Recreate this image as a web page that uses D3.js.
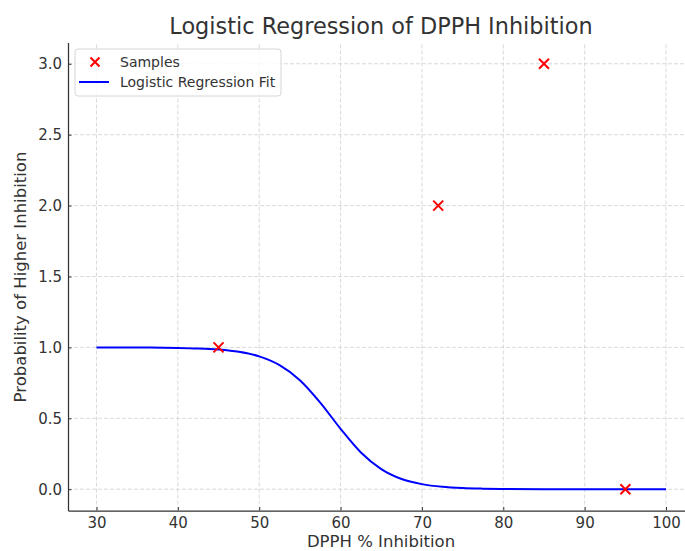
<!DOCTYPE html>
<html>
<head>
<meta charset="utf-8">
<script src="https://cdn.jsdelivr.net/npm/d3@7"></script>
<style>
  body { margin: 0; background: #fff; }
  svg text { font-family: "DejaVu Sans", sans-serif; fill: #333; }
  .grid line { stroke: #d0d0d0; stroke-dasharray: 4,2; stroke-width: 0.8; }
  .axis path, .axis line { stroke: #333; }
  .axis text { font-size: 15px; fill: #333; }
</style>
</head>
<body>
<div id="chart"></div>
<script>
const width = 685;
const height = 551;

// samples (red x)
const sampleX = [45, 72, 85, 95];
const sampleY = [1, 2, 3, 0];

// fitted curve
const fitX = [30, 35, 40, 42.5, 45, 47.5, 50, 52.5, 55, 57.5, 60, 62.5, 65, 67.5, 70, 72.5, 75, 77.5, 80, 85, 90, 95, 100];
const fitY = [0.9998, 0.9993, 0.9967, 0.993, 0.985, 0.969, 0.937, 0.875, 0.769, 0.611, 0.426, 0.259, 0.142, 0.072, 0.036, 0.017, 0.008, 0.004, 0.002, 0.0004, 0.0001, 0, 0];

const xTicks = [30, 40, 50, 60, 70, 80, 90, 100];
const yTicks = [0, 0.5, 1, 1.5, 2, 2.5, 3];

const margin = { top: 42.5, right: -9.5, bottom: 40.5, left: 68 };

const svg = d3.select("#chart").append("svg")
   .attr("width", width)
   .attr("height", height);

const x = d3.scaleLinear()
   .domain([26.5, 103.5])
   .range([margin.left, width - margin.right]);

const y = d3.scaleLinear()
   .domain([-0.15, 3.15])
   .range([height - margin.bottom, margin.top]);

// grid
svg.append("g").attr("class", "grid")
   .selectAll("line").data(xTicks).join("line")
   .attr("x1", d => x(d)).attr("x2", d => x(d))
   .attr("y1", y.range()[0]).attr("y2", y.range()[1]);
svg.append("g").attr("class", "grid")
   .selectAll("line").data(yTicks).join("line")
   .attr("x1", x.range()[0]).attr("x2", x.range()[1])
   .attr("y1", d => y(d)).attr("y2", d => y(d));

// fit line
const fit = fitX.map((d, i) => [d, fitY[i]]);
svg.append("path")
   .datum(fit)
   .attr("fill", "none")
   .attr("stroke", "#0000ff")
   .attr("stroke-width", 2)
   .attr("d", d3.line().x(d => x(d[0])).y(d => y(d[1])).curve(d3.curveMonotoneX));

// samples
const xs = 5;
const pts = svg.append("g").selectAll("g")
   .data(sampleX.map((d, i) => [d, sampleY[i]]))
   .join("g")
   .attr("transform", d => `translate(${x(d[0])},${y(d[1])})`);
pts.append("path")
   .attr("d", `M${-xs},${-xs}L${xs},${xs}M${-xs},${xs}L${xs},${-xs}`)
   .attr("stroke", "#ff0000")
   .attr("stroke-width", 2);

// axes (ticks point inward)
const xAxis = svg.append("g").attr("class", "axis")
   .attr("transform", `translate(0,${y.range()[0]})`)
   .call(d3.axisBottom(x).tickValues(xTicks).tickFormat(d3.format("d")).tickSizeInner(-3.5).tickSizeOuter(0).tickPadding(7));
xAxis.select(".domain").attr("stroke-width", 1.25);

const yAxis = svg.append("g").attr("class", "axis")
   .attr("transform", `translate(${x.range()[0]},0)`)
   .call(d3.axisLeft(y).tickValues(yTicks).tickFormat(d3.format(".1f")).tickSizeInner(-3.5).tickSizeOuter(0).tickPadding(6));
yAxis.select(".domain").attr("stroke-width", 1.25);

// titles
svg.append("text")
   .attr("x", 381).attr("y", 34)
   .attr("text-anchor", "middle")
   .style("font-size", "22.4px")
   .text("Logistic Regression of DPPH Inhibition");

svg.append("text")
   .attr("x", 381).attr("y", 547)
   .attr("text-anchor", "middle")
   .style("font-size", "16.5px")
   .text("DPPH % Inhibition");

svg.append("text")
   .attr("transform", "translate(26,277) rotate(-90)")
   .attr("text-anchor", "middle")
   .style("font-size", "16.5px")
   .text("Probability of Higher Inhibition");

// legend
const lg = svg.append("g").attr("transform", "translate(75,49)");
lg.append("rect")
   .attr("width", 206).attr("height", 47)
   .attr("rx", 3)
   .attr("fill", "#fff").attr("fill-opacity", 0.8)
   .attr("stroke", "#d6d6d6");
lg.append("path")
   .attr("d", `M${20 - 4.5},${13 - 4.5}l9,9M${20 - 4.5},${13 + 4.5}l9,-9`)
   .attr("stroke", "#ff0000").attr("stroke-width", 2);
lg.append("line")
   .attr("x1", 4).attr("x2", 34).attr("y1", 33).attr("y2", 33)
   .attr("stroke", "#0000ff").attr("stroke-width", 2);
lg.append("text").attr("x", 45).attr("y", 18).style("font-size", "14px").text("Samples");
lg.append("text").attr("x", 45).attr("y", 38).style("font-size", "14px").text("Logistic Regression Fit");
</script>
</body>
</html>
